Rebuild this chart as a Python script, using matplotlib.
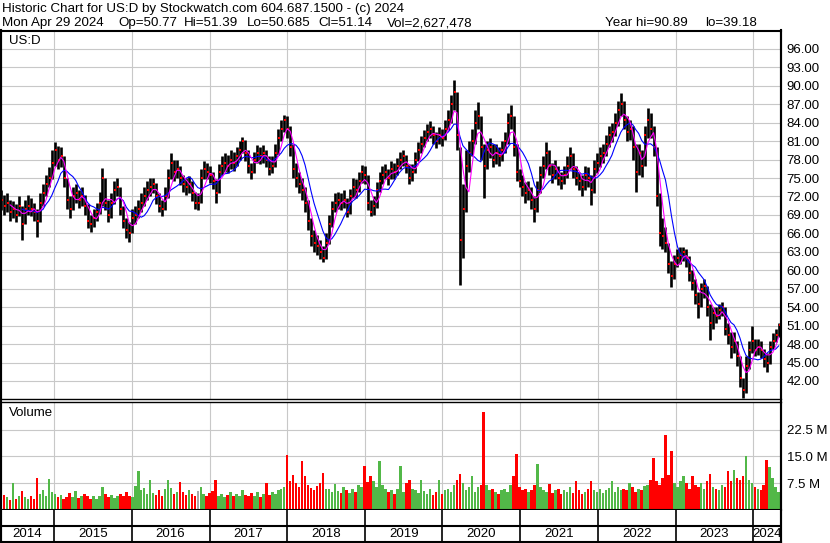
import numpy as np
import pandas as pd
import matplotlib
matplotlib.use('Agg')
import matplotlib.pyplot as plt
import matplotlib.dates as mdates
from matplotlib.lines import Line2D

plt.rcParams['font.family'] = ['Liberation Sans', 'DejaVu Sans']

# ---------------- data (2-week periods) ----------------
start_date = '2014-04-28'
n_periods = 262
dates = pd.date_range(start_date, periods=n_periods, freq='14D')

close = [
 71.5, 70.5, 71.0, 69.5, 70.0, 69.0, 70.5, 67.5, 70.0, 70.5,
 70.0, 69.5, 68.0, 71.0, 72.5, 74.0, 75.0, 77.5, 79.5, 78.0,
 78.5, 75.0, 71.5, 70.0, 72.0, 72.5, 71.5, 72.0, 70.5, 68.0,
 67.5, 68.5, 69.5, 71.0, 75.0, 71.0, 69.0, 71.0, 73.0, 73.5,
 70.0, 68.0, 66.5, 66.0, 68.5, 69.0, 70.0, 71.0, 72.0, 73.0,
 73.5, 74.0, 72.0, 70.5, 70.0, 72.0, 75.0, 77.5, 76.0, 76.5,
 75.0, 74.0, 73.5, 74.0, 72.5, 71.0, 71.0, 75.0, 76.5, 76.0,
 75.5, 74.5, 72.5, 76.0, 77.0, 77.5, 77.0, 78.0, 77.5, 78.5,
 79.5, 81.0, 79.0, 77.0, 76.0, 78.0, 79.0, 78.5, 79.0, 78.0,
 76.5, 77.0, 79.0, 81.5, 83.0, 84.5, 83.0, 80.0, 76.5, 75.0,
 74.0, 73.0, 71.0, 68.0, 65.5, 64.5, 64.0, 63.0, 62.0, 64.5,
 67.5, 70.0, 71.0, 71.5, 71.0, 71.5, 69.5, 72.0, 73.5, 73.0,
 74.5, 76.0, 75.5, 71.0, 69.5, 70.5, 73.0, 74.5, 75.5, 76.0,
 75.0, 76.5, 76.0, 77.0, 78.0, 78.5, 77.0, 75.0, 76.0, 78.0,
 79.5, 80.5, 81.5, 82.5, 83.0, 82.0, 81.0, 82.0, 81.5, 83.0,
 84.5, 87.0, 89.0, 82.0, 65.0, 70.0, 77.0, 79.0, 81.0, 84.0,
 85.0, 80.0, 77.0, 79.5, 80.0, 78.0, 79.0, 78.5, 79.5, 81.0,
 84.0, 85.0, 80.0, 76.0, 74.5, 73.5, 72.5, 73.0, 71.5, 70.0,
 73.0, 75.5, 77.0, 79.0, 77.0, 75.5, 76.5, 75.0, 74.5, 75.5,
 77.0, 78.5, 76.5, 75.0, 74.5, 73.5, 75.5, 75.0, 73.0, 76.5,
 77.5, 78.5, 79.0, 80.5, 82.0, 82.5, 84.0, 86.0, 87.0, 84.5,
 82.5, 83.0, 80.0, 76.0, 79.0, 77.0, 82.0, 84.5, 83.0, 80.0,
 72.0, 66.0, 65.5, 64.5, 61.0, 59.0, 61.0, 62.0, 62.5, 63.0,
 62.0, 59.5, 58.0, 56.0, 54.5, 57.0, 57.5, 54.0, 51.5, 53.0,
 52.5, 53.5, 54.0, 50.5, 49.5, 47.5, 48.5, 46.0, 42.5, 40.5,
 44.5, 47.0, 48.5, 47.0, 47.5, 47.0, 45.5, 45.0, 47.5, 48.5,
 49.5, 51.14]

high = [
 73.0, 72.2, 72.5, 71.5, 71.3, 70.8, 72.0, 70.5, 71.5, 72.3,
 71.8, 71.0, 70.0, 72.5, 74.0, 75.5, 76.8, 79.5, 80.9, 80.2,
 80.0, 78.5, 75.0, 72.0, 73.5, 74.0, 73.0, 73.5, 72.3, 70.8,
 69.0, 70.0, 71.0, 72.8, 76.6, 75.0, 71.5, 72.5, 74.5, 75.0,
 73.5, 70.5, 68.5, 67.8, 70.0, 70.5, 71.5, 72.5, 73.5, 74.5,
 75.0, 75.0, 74.2, 72.5, 71.5, 73.5, 76.5, 79.0, 78.0, 78.0,
 77.0, 75.5, 75.0, 75.3, 74.5, 72.8, 72.5, 76.5, 77.8, 77.5,
 77.0, 76.0, 74.8, 77.3, 78.5, 79.0, 78.8, 79.5, 79.2, 80.0,
 81.0, 81.7, 81.2, 79.5, 77.5, 79.3, 80.3, 80.0, 80.3, 79.5,
 78.5, 78.5, 80.5, 83.0, 84.5, 85.2, 85.0, 83.5, 80.5, 77.5,
 76.0, 75.0, 73.5, 71.5, 68.5, 66.5, 65.8, 65.0, 64.0, 66.0,
 69.0, 71.3, 72.5, 72.8, 72.5, 73.0, 71.8, 73.2, 75.0, 74.8,
 76.0, 77.1, 77.0, 75.5, 71.5, 72.0, 74.3, 76.0, 77.0, 77.3,
 76.5, 77.8, 77.5, 78.3, 79.3, 79.5, 78.8, 77.3, 77.3, 79.3,
 80.8, 81.8, 82.8, 83.8, 84.3, 83.5, 82.5, 83.3, 83.0, 84.5,
 86.0, 88.5, 90.9, 89.0, 80.0, 74.0, 79.5, 81.0, 83.0, 86.0,
 87.4, 85.0, 80.5, 81.0, 81.5, 80.5, 80.5, 80.0, 81.0, 82.5,
 85.5, 86.9, 85.0, 80.5, 76.5, 75.5, 74.3, 74.5, 73.5, 72.0,
 74.5, 77.0, 78.5, 80.9, 79.5, 77.5, 78.0, 77.0, 76.0, 77.0,
 78.5, 80.0, 79.0, 77.0, 76.0, 75.5, 77.0, 76.8, 75.5, 78.0,
 79.0, 80.0, 80.5, 82.0, 83.5, 84.0, 85.5, 87.5, 88.8, 87.5,
 85.0, 84.5, 83.5, 80.5, 80.5, 79.5, 83.5, 86.4, 85.5, 83.5,
 80.0, 72.5, 68.5, 67.0, 64.5, 61.5, 62.5, 63.5, 63.8, 63.8,
 63.5, 62.3, 60.0, 58.5, 56.5, 58.0, 58.5, 57.5, 54.5, 54.0,
 54.0, 54.5, 54.8, 54.0, 51.5, 50.0, 50.0, 48.5, 46.0, 42.5,
 46.0, 48.5, 50.9, 48.8, 48.8, 48.5, 47.2, 46.5, 48.5, 49.8,
 50.5, 51.39]

low = [
 69.8, 69.0, 69.5, 68.0, 68.5, 67.8, 68.8, 65.0, 67.5, 69.0,
 68.8, 68.0, 65.4, 67.8, 70.5, 72.0, 73.5, 74.8, 77.0, 76.5,
 76.8, 73.5, 70.0, 68.5, 69.8, 71.0, 70.2, 70.5, 69.0, 66.8,
 66.2, 67.0, 68.0, 69.2, 70.5, 69.8, 67.8, 68.5, 70.8, 72.0,
 69.0, 66.8, 65.2, 64.6, 66.0, 67.5, 68.5, 69.5, 70.5, 71.5,
 72.0, 72.5, 70.8, 69.5, 68.8, 69.8, 71.8, 74.8, 74.5, 75.0,
 73.8, 72.8, 72.2, 72.5, 71.2, 70.0, 69.8, 71.0, 74.8, 74.8,
 74.2, 73.2, 71.0, 72.5, 75.5, 76.0, 75.8, 76.5, 76.2, 77.0,
 78.0, 79.0, 77.8, 75.8, 74.8, 75.8, 77.5, 77.2, 77.5, 76.8,
 75.5, 75.8, 76.8, 78.8, 81.0, 82.5, 81.5, 78.5, 75.0, 73.5,
 72.5, 71.5, 69.5, 66.5, 64.0, 63.0, 62.5, 61.8, 61.4, 61.8,
 64.2, 67.0, 69.5, 70.0, 69.8, 70.2, 68.7, 69.2, 71.8, 71.8,
 72.8, 74.2, 74.0, 69.8, 68.8, 69.0, 70.2, 72.8, 74.0, 74.8,
 73.8, 74.8, 74.8, 75.5, 76.5, 77.0, 75.8, 74.0, 74.5, 75.8,
 77.8, 79.0, 80.0, 81.0, 81.5, 80.5, 79.8, 80.5, 80.2, 81.2,
 82.8, 84.0, 86.0, 79.5, 57.6, 62.0, 69.5, 76.0, 78.5, 80.5,
 83.0, 78.0, 71.7, 76.5, 78.3, 76.8, 77.3, 77.0, 77.8, 79.0,
 80.5, 83.0, 78.5, 74.5, 73.5, 72.0, 71.0, 71.5, 70.0, 67.9,
 69.5, 72.5, 75.0, 76.5, 75.5, 74.2, 74.8, 73.8, 73.2, 74.0,
 75.0, 76.5, 75.0, 73.8, 73.0, 72.0, 73.0, 73.5, 70.6, 72.5,
 75.8, 76.8, 77.5, 78.5, 80.0, 80.8, 81.8, 83.5, 85.0, 83.0,
 81.0, 81.2, 78.0, 72.7, 75.5, 75.2, 77.0, 81.5, 81.5, 78.5,
 70.5, 64.0, 63.5, 63.0, 59.5, 57.3, 58.5, 60.5, 61.0, 61.5,
 60.5, 58.3, 56.8, 54.5, 52.2, 54.0, 55.5, 52.5, 48.7, 50.5,
 51.5, 52.0, 52.5, 49.5, 48.0, 45.7, 46.5, 44.5, 41.0, 39.18,
 40.0, 44.0, 46.5, 46.0, 46.3, 45.8, 44.3, 43.5, 44.8, 47.2,
 48.3, 49.2]

volume_m = [
 3.0, 4.2, 3.5, 2.8, 7.5, 3.2, 4.0, 5.4, 3.6, 3.0,
 4.0, 3.2, 8.9, 4.5, 5.5, 3.8, 8.8, 5.0, 4.5, 3.5,
 4.2, 3.0, 3.6, 4.8, 3.5, 5.2, 3.4, 4.0, 4.6, 3.8,
 3.2, 4.0, 3.0, 3.8, 6.5, 4.5, 3.6, 4.2, 3.3, 4.0,
 4.6, 3.8, 5.0, 4.0, 3.5, 6.8, 11.0, 5.5, 6.2, 4.5,
 8.3, 4.8, 4.2, 5.5, 4.0, 6.0, 8.3, 6.2, 4.5, 5.0,
 7.8, 5.0, 4.2, 5.5, 4.6, 3.8, 5.2, 6.5, 4.4, 4.0,
 4.8, 5.2, 8.3, 3.8, 4.5, 3.6, 4.2, 5.0, 3.8, 4.6,
 4.0, 5.5, 4.2, 3.8, 4.8, 4.0, 5.0, 3.6, 4.5, 7.6,
 4.2, 5.0, 4.5, 5.5, 6.0, 6.5, 15.3, 8.0, 9.8, 7.5,
 6.5, 13.6, 9.5, 7.0, 6.2, 5.5, 6.8, 7.5, 10.3, 5.8,
 6.0, 5.0, 7.2, 5.2, 4.8, 6.5, 5.5, 4.8, 6.0, 5.0,
 7.0, 6.5, 12.3, 7.8, 9.4, 8.0, 6.5, 13.6, 7.0, 6.0,
 5.0, 5.5, 4.6, 6.0, 12.3, 5.0, 7.5, 8.5, 6.0, 5.5,
 4.8, 8.5, 5.2, 4.5, 5.8, 4.2, 5.0, 8.5, 4.5, 5.5,
 6.0, 5.0, 7.0, 8.5, 10.2, 7.5, 5.5, 6.5, 9.5, 5.0,
 6.5, 7.0, 27.5, 7.0, 5.5, 6.0, 5.0, 4.5, 5.5, 6.0,
 5.0, 7.0, 9.5, 15.6, 6.5, 5.5, 6.0, 5.0, 5.5, 7.0,
 12.8, 6.5, 5.5, 5.0, 7.2, 4.8, 5.5, 6.0, 4.5, 5.5,
 5.0, 6.5, 4.8, 8.0, 5.5, 4.5, 5.0, 6.0, 8.0, 5.5,
 5.0, 6.0, 4.8, 5.5, 6.2, 8.0, 5.0, 6.5, 5.5, 6.0,
 5.5, 7.6, 6.5, 5.0, 6.0, 5.5, 6.8, 7.0, 8.5, 14.5,
 8.0, 7.0, 9.0, 21.0, 9.8, 16.4, 7.5, 6.5, 8.0, 9.6,
 7.5, 6.0, 9.5, 7.0, 6.5, 7.5, 6.0, 8.0, 10.0, 6.5,
 6.0, 5.5, 7.0, 6.5, 11.0, 8.0, 11.2, 9.0, 8.5, 9.5,
 15.0, 8.3, 7.5, 6.5, 6.0, 5.5, 7.0, 14.1, 12.0, 8.9,
 6.5, 5.0]

price_ticks = [42, 45, 48, 51, 54, 57, 60, 63, 66, 69, 72, 75, 78, 81, 84, 87, 90, 93, 96]
vol_ticks_m = [7.5, 15.0, 22.5]
years = list(range(2014, 2025))
title_line1 = "Historic Chart for US:D by Stockwatch.com 604.687.1500 - (c) 2024"
title_fields = ["Mon Apr 29 2024", "Op=50.77", "Hi=51.39", "Lo=50.685",
                "Cl=51.14", "Vol=2,627,478", "Year hi=90.89", "lo=39.18"]
symbol = "US:D"

# ---------------- derived series ----------------
s_close = pd.Series(close, index=dates)
ma_short = s_close.rolling(4).mean()
ma_long = s_close.rolling(8).mean()
vol = np.array(volume_m) * 1e6
diff = np.diff(np.r_[close[0], close])
vcolors = ['#a8a8a8' if d == 0 else ('#ff0000' if d < 0 else '#52b848') for d in diff]

# ---------------- layout ----------------
W, H = 830, 543
def frect(x0, y0, x1, y1):
    return [x0 / W, 1 - y1 / H, (x1 - x0) / W, (y1 - y0) / H]

fig = plt.figure(figsize=(W / 100, H / 100), dpi=100)
fig.patch.set_facecolor('white')

xl = mdates.date2num(pd.Timestamp('2014-04-27'))
xr = mdates.date2num(pd.Timestamp('2024-05-10'))
year_bounds = [pd.Timestamp(f'{y}-01-01') for y in years[1:]]
GRID = '#c8c8c8'
FS = 9.5

# price panel
axp = fig.add_axes(frect(1, 31, 781, 399))
axp.set_xlim(xl, xr)
axp.set_ylim(39.07, 98.9)
axp.set_yticks(price_ticks)
axp.set_yticklabels([f'{t:.2f}' for t in price_ticks])
axp.yaxis.tick_right()
axp.tick_params(axis='y', length=0, pad=4, labelsize=FS)
axp.set_xticks(year_bounds)
axp.tick_params(axis='x', length=0, labelbottom=False)
axp.grid(True, color=GRID, lw=0.8, zorder=0)
axp.set_axisbelow(True)
axp.vlines(dates, low, high, color='black', lw=1.9, zorder=3)
axp.plot(dates + pd.Timedelta(days=4), close, 's', ms=1.5, mew=0, color='red', zorder=3.5)
axp.plot(dates, ma_long, color='#0000ff', lw=0.8, zorder=4)
axp.plot(dates, ma_short, color='#ff00ff', lw=0.8, zorder=5)
for side, lw in [('top', 1.5), ('left', 1.5), ('right', 1.5), ('bottom', 1.0)]:
    axp.spines[side].set_linewidth(lw)
    axp.spines[side].set_color('black')
axp.text(8 / 780, 1 - 10 / 368, symbol, transform=axp.transAxes, fontsize=FS,
         va='center', ha='left')

# volume panel
axv = fig.add_axes(frect(1, 402, 781, 510))
axv.set_xlim(xl, xr)
axv.set_ylim(0, 30.2e6)
axv.set_yticks([v * 1e6 for v in vol_ticks_m])
axv.set_yticklabels([f'{v:.1f} M' for v in vol_ticks_m])
axv.yaxis.tick_right()
axv.tick_params(axis='y', length=0, pad=4, labelsize=FS)
axv.set_xticks(year_bounds)
axv.tick_params(axis='x', length=0, labelbottom=False)
axv.grid(True, color=GRID, lw=0.8, zorder=0)
axv.set_axisbelow(True)
axv.bar(dates, vol, width=12, color=vcolors, linewidth=0, zorder=2)
for side, lw in [('top', 1.0), ('left', 1.5), ('right', 1.5), ('bottom', 1.5)]:
    axv.spines[side].set_linewidth(lw)
axv.text(8 / 780, 1 - 11 / 108, 'Volume', transform=axv.transAxes, fontsize=FS,
         va='center', ha='left')

# date strip
axs = fig.add_axes(frect(1, 510, 781, 542))
axs.set_xlim(xl, xr)
axs.set_ylim(0, 1)
axs.set_xticks([])
axs.set_yticks([])
for side in ['top', 'left', 'right', 'bottom']:
    axs.spines[side].set_linewidth(1.5)
axs.spines['top'].set_visible(False)
axs.axhline(0.5, color='black', lw=1.5)
for b in year_bounds:
    axs.axvline(mdates.date2num(b), color='black', lw=1.2)
edges = [xl] + [mdates.date2num(b) for b in year_bounds] + [xr]
for i, y in enumerate(years):
    axs.text((edges[i] + edges[i + 1]) / 2, 0.24, str(y), ha='center', va='center',
             fontsize=FS)

# outer frame lines
fig.add_artist(Line2D([781 / W, 781 / W], [0, 1 - 30 / H], color='black', lw=1.5))
fig.add_artist(Line2D([0.8 / W, 0.8 / W], [0, 1 - 30 / H], color='black', lw=1.5))

# title
TFS = 9.6
fig.text(2 / W, 1 - 9 / H, title_line1, fontsize=TFS, va='center', ha='left')
field_x = [2, 118, 184, 247, 318, 387, 605, 705]
for fx, t in zip(field_x, title_fields):
    fig.text(fx / W, 1 - 23 / H, t, fontsize=TFS, va='center', ha='left')

fig.savefig('out.png', dpi=100, facecolor='white')
